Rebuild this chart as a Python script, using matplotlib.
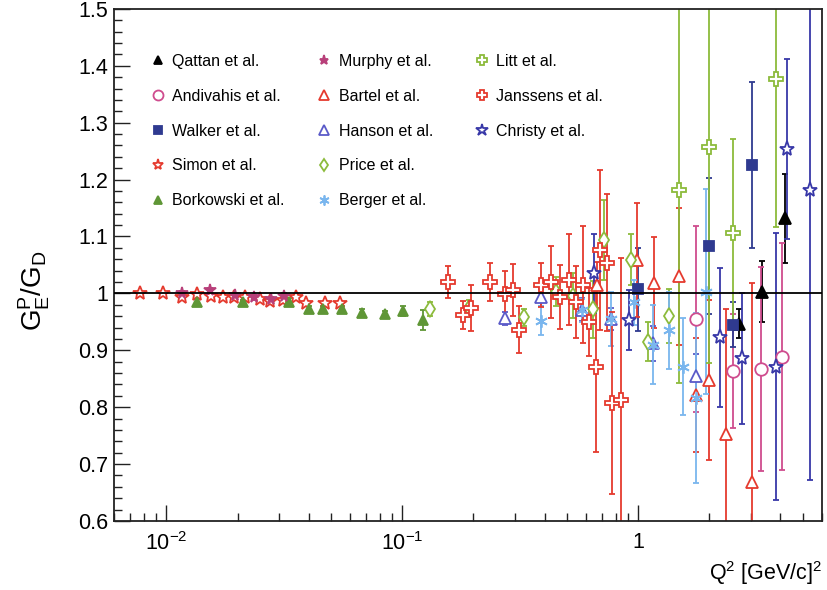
import matplotlib
matplotlib.use("Agg")
import matplotlib.pyplot as plt
from matplotlib.ticker import FixedLocator, FixedFormatter, MultipleLocator, NullFormatter

plt.rcParams['font.family'] = ['Liberation Sans', 'DejaVu Sans']
plt.rcParams['mathtext.fontset'] = 'custom'
plt.rcParams['mathtext.rm'] = 'Liberation Sans'
plt.rcParams['mathtext.it'] = 'Liberation Sans:italic'
plt.rcParams['mathtext.bf'] = 'Liberation Sans:bold'
plt.rcParams['mathtext.sf'] = 'Liberation Sans'

# ---------------- data ----------------
qattan_x = [2.68, 3.35, 4.17]
qattan_y = [0.947, 1.003, 1.132]
qattan_e = [0.025, 0.053, 0.078]

andivahis_x = [1.75, 2.51, 3.3, 4.05]
andivahis_y = [0.955, 0.863, 0.867, 0.889]
andivahis_e = [0.163, 0.10, 0.18, 0.20]

walker_x = [1.0, 2.0, 2.51, 3.04]
walker_y = [1.007, 1.083, 0.945, 1.226]
walker_e = [0.073, 0.12, 0.04, 0.146]

simon_x = [0.0077, 0.0097, 0.0116, 0.0135, 0.0154, 0.0173, 0.0194, 0.0215,
           0.0248, 0.0274, 0.0311, 0.0353, 0.0389, 0.047, 0.0543]
simon_y = [1.0, 1.0, 0.994, 0.998, 0.995, 0.994, 0.994, 0.993,
           0.99, 0.987, 0.988, 0.994, 0.983, 0.983, 0.983]
simon_e = [0.004] * 15

borkowski_x = [0.0135, 0.021, 0.033, 0.0402, 0.0461, 0.0553, 0.0671, 0.0844, 0.1002, 0.1226]
borkowski_y = [0.985, 0.984, 0.985, 0.972, 0.972, 0.972, 0.966, 0.963, 0.969, 0.953]
borkowski_e = [0.005, 0.005, 0.006, 0.005, 0.005, 0.005, 0.006, 0.006, 0.008, 0.017]

murphy_x = [0.0116, 0.0153, 0.0195, 0.0235, 0.0278, 0.0315]
murphy_y = [1.0, 1.006, 0.997, 0.993, 0.99, 0.996]
murphy_e = [0.004] * 6

bartel_x = [0.667, 0.99, 1.16, 1.49, 1.75, 2.0, 2.34, 3.02]
bartel_y = [1.015, 1.059, 1.019, 1.03, 0.822, 0.848, 0.753, 0.669]
bartel_e = [0.04, 0.10, 0.08, 0.12, 0.10, 0.14, 0.22, 0.35]

hanson_x = [0.272, 0.388, 0.577, 0.766, 1.154, 1.75]
hanson_y = [0.956, 0.993, 0.971, 0.955, 0.912, 0.854]
hanson_e = [0.012, 0.015, 0.02, 0.02, 0.03, 0.04]

price_x = [0.131, 0.192, 0.328, 0.449, 0.528, 0.642, 0.713, 0.931, 1.10, 1.345]
price_y = [0.972, 0.974, 0.958, 1.003, 0.996, 0.972, 1.094, 1.059, 0.915, 0.96]
price_e = [0.012, 0.015, 0.015, 0.025, 0.04, 0.05, 0.07, 0.045, 0.034, 0.048]

berger_x = [0.388, 0.577, 0.766, 0.96, 1.154, 1.345, 1.55, 1.75, 1.93]
berger_y = [0.952, 0.97, 0.955, 0.984, 0.91, 0.935, 0.871, 0.816, 1.003]
berger_e = [0.026, 0.02, 0.047, 0.04, 0.07, 0.068, 0.085, 0.15, 0.18]

litt_x = [1.49, 2.0, 2.51, 3.82]
litt_y = [1.182, 1.258, 1.106, 1.376]
litt_e = [0.34, 0.38, 0.165, 0.26]

janssens_x = [0.156, 0.18, 0.195, 0.234, 0.273, 0.294, 0.3125, 0.388, 0.427, 0.467,
              0.506, 0.544, 0.58, 0.616, 0.661, 0.69, 0.736, 0.773, 0.847]
janssens_y = [1.0205, 0.962, 0.974, 1.02, 0.999, 1.006, 0.936, 1.015, 1.02, 0.993,
              1.024, 0.985, 1.015, 0.95, 0.871, 1.076, 1.054, 0.807, 0.813]
janssens_e = [0.028, 0.025, 0.04, 0.034, 0.04, 0.045, 0.041, 0.039, 0.064, 0.056,
              0.08, 0.063, 0.103, 0.06, 0.15, 0.14, 0.12, 0.16, 0.25]

christy_x = [0.646, 0.91, 2.21, 2.76, 3.82, 4.28, 5.34]
christy_y = [1.035, 0.953, 0.923, 0.886, 0.871, 1.253, 1.182]
christy_e = [0.07, 0.053, 0.122, 0.115, 0.235, 0.158, 0.51]

x_tick_vals = [0.01, 0.1, 1]
x_tick_labels = [r'$\mathregular{10^{-2}}$', r'$\mathregular{10^{-1}}$', '1']
y_tick_vals = [0.6, 0.7, 0.8, 0.9, 1.0, 1.1, 1.2, 1.3, 1.4, 1.5]
y_tick_labels = ['0.6', '0.7', '0.8', '0.9', '1', '1.1', '1.2', '1.3', '1.4', '1.5']

# ---------------- styles ----------------
RED = '#e53a2e'
GREEN_D = '#5f9636'
GREEN_L = '#8cbb3c'
NAVY = '#2f3a90'
BLUE = '#3838a8'
BLUE_L = '#5a5ac8'
SKY = '#7ab6ee'
PINK = '#cf4c8e'
MAG = '#b8407a'

series = [
    # label, x, y, e, color, marker, ms, filled
    ('Qattan et al.', qattan_x, qattan_y, qattan_e, 'black', '^', 8, True),
    ('Andivahis et al.', andivahis_x, andivahis_y, andivahis_e, PINK, 'o', 9, False),
    ('Walker et al.', walker_x, walker_y, walker_e, NAVY, 's', 7.5, True),
    ('Simon et al.', simon_x, simon_y, simon_e, RED, '*', 10, False),
    ('Borkowski et al.', borkowski_x, borkowski_y, borkowski_e, GREEN_D, '^', 7.5, True),
    ('Murphy et al.', murphy_x, murphy_y, murphy_e, MAG, '*', 8.5, True),
    ('Bartel et al.', bartel_x, bartel_y, bartel_e, RED, '^', 9, False),
    ('Hanson et al.', hanson_x, hanson_y, hanson_e, BLUE_L, '^', 9, False),
    ('Price et al.', price_x, price_y, price_e, GREEN_L, 'd', 8, False),
    ('Berger et al.', berger_x, berger_y, berger_e, SKY, (6, 2, 0), 9, False),
    ('Litt et al.', litt_x, litt_y, litt_e, GREEN_L, 'P', 9.5, False),
    ('Janssens et al.', janssens_x, janssens_y, janssens_e, RED, 'P', 9.5, False),
    ('Christy et al.', christy_x, christy_y, christy_e, BLUE, '*', 11, False),
]

fig = plt.figure(figsize=(8.27, 5.90), dpi=100)
ax = fig.add_axes([0.138, 0.117, 0.856, 0.868])

handles = []
for label, x, y, e, color, marker, ms, filled in series:
    ax.errorbar(x, y, yerr=e, fmt='none', ecolor=color, elinewidth=1.3,
                capsize=2.5, capthick=1.3, zorder=2)
    (ln,) = ax.plot(x, y, linestyle='none', marker=marker, markersize=ms,
                    markerfacecolor=color if filled else 'white',
                    markeredgecolor=color, markeredgewidth=1.3, zorder=3, label=label)
    handles.append(ln)

ax.axhline(1.0, color='black', linewidth=1.3, zorder=4)

ax.set_xscale('log')
ax.set_xlim(0.006, 6.0)
ax.set_ylim(0.6, 1.5)

ax.xaxis.set_major_locator(FixedLocator(x_tick_vals))
ax.xaxis.set_major_formatter(FixedFormatter(x_tick_labels))
minor_x = [m * 10.0 ** d for d in (-3, -2, -1, 0) for m in range(2, 10)]
ax.xaxis.set_minor_locator(FixedLocator(minor_x))
ax.xaxis.set_minor_formatter(NullFormatter())
ax.yaxis.set_major_locator(FixedLocator(y_tick_vals))
ax.yaxis.set_major_formatter(FixedFormatter(y_tick_labels))
ax.yaxis.set_minor_locator(MultipleLocator(0.02))

ax.tick_params(which='both', direction='in', top=False, right=False, width=1.0,
               labelsize=15.5, color='#222222')
ax.tick_params(which='major', length=11.5)
ax.tick_params(which='minor', length=5.8)
ax.tick_params(axis='x', which='major', pad=8)
ax.tick_params(axis='y', which='major', pad=4)
for sp in ax.spines.values():
    sp.set_linewidth(1.3)
    sp.set_color('#222222')

ax.set_ylabel(r'$\mathregular{G_E^P/G_D}$', fontsize=20)
ax.yaxis.set_label_coords(-0.088, 0.45)
ax.set_xlabel(r'Q$^2$ [GeV/c]$^2$', fontsize=15.5, ha='right')
ax.xaxis.set_label_coords(1.0, -0.075)

cols = [handles[0:5], handles[5:10], handles[10:13]]
anchors = [(0.046, 0.918), (0.281, 0.918), (0.504, 0.918)]
legs = []
for hs, anc in zip(cols, anchors):
    leg = ax.legend(handles=hs, loc='upper left', bbox_to_anchor=anc, frameon=False,
                    fontsize=11.5, markerscale=0.8, handlelength=1.0, handletextpad=0.4,
                    labelspacing=1.24, borderpad=0.2, borderaxespad=0)
    legs.append(leg)
for leg in legs[:-1]:
    ax.add_artist(leg)

fig.savefig('out.png', dpi=100)
